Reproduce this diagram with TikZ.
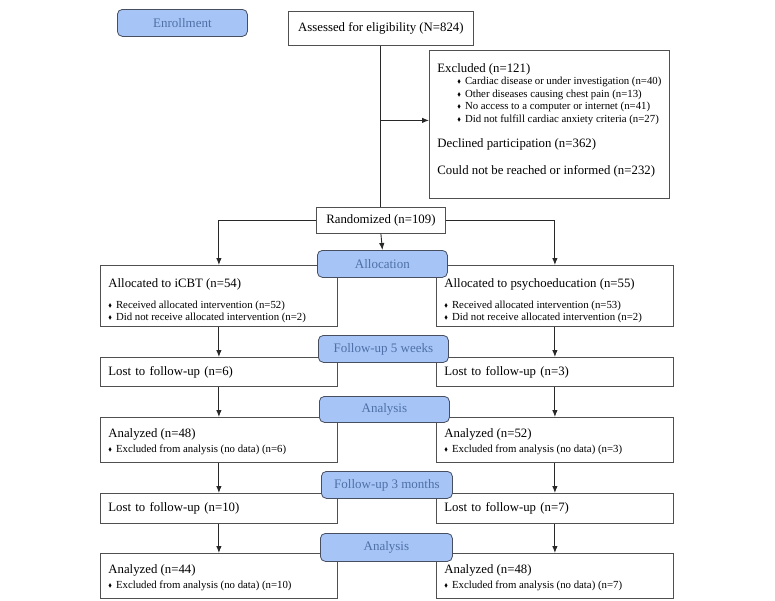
\documentclass[tikz,border=0pt]{standalone}
\usepackage{amssymb}
\usepackage{fontspec}
\setmainfont{Liberation Serif}
\usepackage{tikz}
\usepackage{xcolor}
\usetikzlibrary{arrows.meta}

\definecolor{stageblue}{RGB}{166,196,246}
\definecolor{stageedge}{RGB}{70,78,96}
\definecolor{stagetext}{RGB}{79,112,166}
\definecolor{boxgray}{RGB}{80,80,80}
\definecolor{linegray}{RGB}{40,40,40}

\newcommand{\bul}{\raisebox{1.3pt}{\scalebox{0.5}{$\blacklozenge$}}}
\newcommand{\subline}[1]{{\fontsize{10.8}{12.5}\selectfont\bul\hspace{4pt}#1}}
% width, height, first baseline, lines
\newcommand{\boxtext}[4]{\parbox[c][#2][t]{#1}{\fontsize{12.8}{12.5}\selectfont\rule{0pt}{#3}#4}}

\tikzset{
  box/.style={draw=boxgray, fill=white, line width=0.8pt, anchor=north west,
    inner xsep=8pt, inner ysep=0pt, align=left,
    font=\fontsize{12.8}{12.5}\selectfont},
  stage/.style={draw=stageedge, fill=stageblue, rounded corners=5pt, anchor=north west,
    line width=0.8pt, text=stagetext, minimum width=130pt,
    font=\fontsize{13}{14}\selectfont},
  link/.style={draw=linegray, line width=0.9pt},
  arr/.style={link, -{Latex[length=7pt,width=5.5pt]}},
}

\begin{document}
\begin{tikzpicture}[x=1pt, y=-1pt]
    \useasboundingbox (0,0) rectangle (775,600);

    % enrollment
    \node[stage, minimum height=27pt] (enroll) at (117,9) {Enrollment};
    \node[box, minimum width=185pt, minimum height=34pt, align=center] (assessed) at (288,11) {Assessed for eligibility (N=824)};
    \node[box, minimum height=148pt] (excluded) at (429,50) {\boxtext{224pt}{148pt}{22pt}{Excluded (n=121)\\
        \hspace*{20pt}\subline{Cardiac disease or under investigation (n=40)}\\
        \hspace*{20pt}\subline{Other diseases causing chest pain (n=13)}\\
        \hspace*{20pt}\subline{No access to a computer or internet (n=41)}\\
        \hspace*{20pt}\subline{Did not fulfill cardiac anxiety criteria (n=27)}\\[12.5pt]
        Declined participation (n=362)\\[14.5pt]
        Could not be reached or informed (n=232)}};
    \node[box, minimum width=129pt, minimum height=26pt, align=center] (random) at (316,207) {Randomized (n=109)};

    % allocation
    \node[box, minimum height=61pt] (allocIcbt) at (100,265) {\boxtext{221pt}{61pt}{22pt}{Allocated to iCBT (n=54)\\[8.5pt]
        \subline{Received allocated intervention (n=52)}\\
        \subline{Did not receive allocated intervention (n=2)}}};
    \node[box, minimum height=61pt] (allocPsy) at (436,265) {\boxtext{221pt}{61pt}{22pt}{Allocated to psychoeducation (n=55)\\[8.5pt]
        \subline{Received allocated intervention (n=53)}\\
        \subline{Did not receive allocated intervention (n=2)}}};

    % follow-up 5 weeks
    \node[box, text width=221pt, minimum height=29pt] (lostIcbtA) at (100,357) {Lost to follow-up (n=6)};
    \node[box, text width=221pt, minimum height=29pt] (lostPsyA) at (436,357) {Lost to follow-up (n=3)};
    \node[box, minimum height=45pt] (anaIcbtA) at (100,417) {\boxtext{221pt}{45pt}{20pt}{Analyzed (n=48)\\[2.5pt]
        \subline{Excluded from analysis (no data) (n=6)}}};
    \node[box, minimum height=45pt] (anaPsyA) at (436,417) {\boxtext{221pt}{45pt}{20pt}{Analyzed (n=52)\\[2.5pt]
        \subline{Excluded from analysis (no data) (n=3)}}};

    % follow-up 3 months
    \node[box, text width=221pt, minimum height=30pt] (lostIcbtB) at (100,493) {Lost to follow-up (n=10)};
    \node[box, text width=221pt, minimum height=30pt] (lostPsyB) at (436,493) {Lost to follow-up (n=7)};
    \node[box, minimum height=45pt] (anaIcbtB) at (100,553) {\boxtext{221pt}{45pt}{20pt}{Analyzed (n=44)\\[2.5pt]
        \subline{Excluded from analysis (no data) (n=10)}}};
    \node[box, minimum height=45pt] (anaPsyB) at (436,553) {\boxtext{221pt}{45pt}{20pt}{Analyzed (n=48)\\[2.5pt]
        \subline{Excluded from analysis (no data) (n=7)}}};

    % stage labels on top
    \node[stage, minimum height=27pt] (alloc) at (317,250) {Allocation};
    \node[stage, minimum height=27pt] (followA) at (318,335) {Follow-up 5 weeks};
    \node[stage, minimum height=26pt] (analysisA) at (319,396) {Analysis};
    \node[stage, minimum height=27pt, minimum width=131pt] (followB) at (321,471) {Follow-up 3 months};
    \node[stage, minimum height=28pt, minimum width=132pt] (analysisB) at (320,533) {Analysis};

    \coordinate (exclIn) at ([yshift=4pt]excluded.west);

    \draw[link] (assessed.south) -- (random.north);
    \draw[arr] (exclIn -| assessed.south) -- (exclIn);
    \draw[arr] (random.west) -| (allocIcbt.north);
    \draw[arr] (random.east) -| (allocPsy.north);
    \draw[arr] (random.south) -- (alloc.north);

    \draw[arr] (allocIcbt.south) -- (lostIcbtA.north);
    \draw[arr] (allocPsy.south) -- (lostPsyA.north);
    \draw[arr] (lostIcbtA.south) -- (anaIcbtA.north);
    \draw[arr] (lostPsyA.south) -- (anaPsyA.north);
    \draw[arr] (anaIcbtA.south) -- (lostIcbtB.north);
    \draw[arr] (anaPsyA.south) -- (lostPsyB.north);
    \draw[arr] (lostIcbtB.south) -- (anaIcbtB.north);
    \draw[arr] (lostPsyB.south) -- (anaPsyB.north);
\end{tikzpicture}
\end{document}
